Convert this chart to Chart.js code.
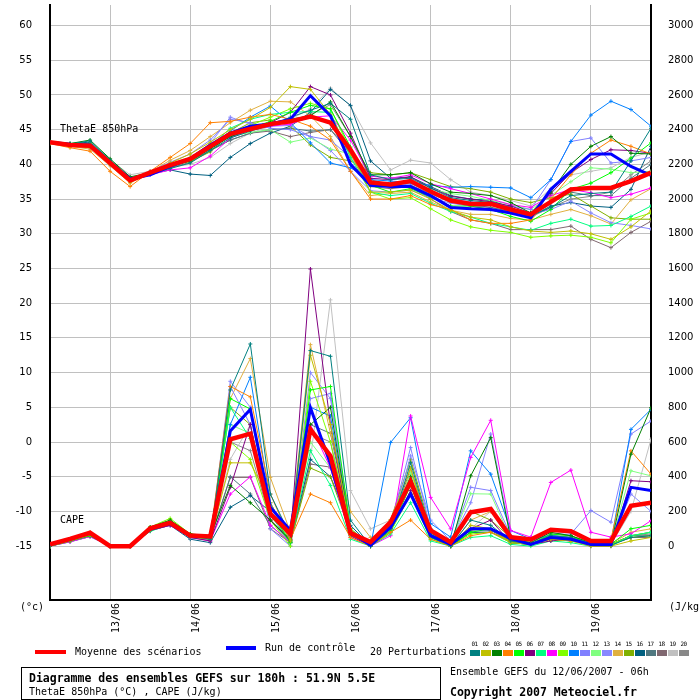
<!DOCTYPE html>
<html>
<head>
<meta charset="utf-8">
<script src="https://cdn.jsdelivr.net/npm/chart.js@4.4.0/dist/chart.umd.min.js"></script>
<style>
body { margin: 0; background: #fff; }
#wrap { position: relative; width: 700px; height: 700px; font-family: "DejaVu Sans Mono", monospace; color: #000; }
#chart { position: absolute; left: 0; top: 0; }
.t { position: absolute; white-space: nowrap; font-size: 10px; line-height: 10px; }
.b { font-weight: bold; font-size: 11.5px; line-height: 12px; }
.sw { position: absolute; }
.num { position: absolute; font-size: 6px; line-height: 6px; width: 11px; text-align: center; letter-spacing: -0.5px; }
#box { position: absolute; left: 21px; top: 667px; width: 418px; height: 31px; border: 1px solid #000; }
</style>
</head>
<body>
<div id="wrap">
  <canvas id="chart" width="700" height="700"></canvas>
  <div class="t" style="left:60px;top:124px">ThetaE 850hPa</div>
  <div class="t" style="left:60px;top:515px">CAPE</div>
  <div class="t" style="left:20px;top:602px">(°c)</div>
  <div class="t" style="left:669px;top:602px">(J/kg</div>

  <div class="sw" style="left:35px;top:650px;width:31px;height:4px;background:#ff0000"></div>
  <div class="t" style="left:75px;top:647px">Moyenne des scénarios</div>
  <div class="sw" style="left:226px;top:646px;width:30px;height:4px;background:#0000ff"></div>
  <div class="t" style="left:265px;top:643px">Run de contrôle</div>
  <div class="t" style="left:370px;top:647px">20 Perturbations</div>
  <div id="swatches"></div>

  <div id="box"></div>
  <div class="t b" style="left:29px;top:672px">Diagramme des ensembles GEFS sur 180h : 51.9N 5.5E</div>
  <div class="t" style="left:29px;top:687px">ThetaE 850hPa (°C) , CAPE (J/kg)</div>
  <div class="t" style="left:450px;top:667px">Ensemble GEFS du 12/06/2007 - 06h</div>
  <div class="t b" style="left:450px;top:686px">Copyright 2007 Meteociel.fr</div>
</div>
<script>
// forecast steps (hours after 12/06 06h)
const hours = [0,6,12,18,24,30,36,42,48,54,60,66,72,78,84,90,96,102,108,114,120,126,132,138,144,150,156,162,168,174,180];
const dayTicks = [18,42,66,90,114,138,162];
const dayLabels = ['13/06','14/06','15/06','16/06','17/06','18/06','19/06'];
const thetaTicks = [-15,-10,-5,0,5,10,15,20,25,30,35,40,45,50,55,60];
const capeTicks = [0,200,400,600,800,1000,1200,1400,1600,1800,2000,2200,2400,2600,2800,3000];

// ThetaE 850hPa (°C)
const thetaMean = [43.2,42.8,42.7,40.2,37.7,38.8,39.9,40.8,42.6,44.4,45.1,45.8,46.2,46.9,46.0,42.1,37.4,37.1,37.6,36.1,34.8,34.3,34.3,33.5,32.8,34.6,36.4,36.6,36.6,37.6,38.8];
const thetaCtl = [43.2,42.9,42.8,40.3,37.9,38.5,39.7,40.8,42.8,44.5,45.5,45.8,46.5,49.9,47.0,40.0,37.0,36.8,36.8,35.5,33.8,33.6,33.5,33.0,32.3,36.4,39.0,41.5,41.5,39.7,38.4];

// CAPE (J/kg)
const capeMean = [10,42,77,0,0,103,134,61,56,616,648,186,71,673,520,75,23,138,373,90,23,195,214,52,38,94,86,29,29,233,250];
const capeCtl = [10,40,75,0,0,100,130,60,55,664,788,224,90,797,473,80,5,109,300,60,10,100,100,44,10,50,40,10,10,339,320];

// 20 perturbations
const pertNames = ['01','02','03','04','05','06','07','08','09','10','11','12','13','14','15','16','17','18','19','20'];
const pertColors = ['#008080','#c0c000','#008000','#ff8000','#00ff00','#800080','#00ff80','#ff00ff','#80ff00','#0080ff','#8080ff','#80ff80','#8888ff','#e0b040','#80b000','#006080','#507880','#806870','#c0c0c0','#888888'];

const thetaPert = [
  [43.1,42.9,43.4,40.6,38.0,38.6,39.4,40.2,42.0,43.8,44.8,45.6,46.8,47.8,48.8,46.5,38.5,37.8,38.0,36.6,35.2,34.8,34.5,33.6,32.6,33.8,35.5,35.8,36.0,40.5,45.2],
  [43.0,42.6,42.4,40.0,37.4,38.8,40.2,41.5,43.2,45.0,46.5,48.2,51.2,50.8,47.2,41.5,36.0,36.0,36.3,35.0,33.4,32.4,32.0,31.0,30.4,30.2,30.4,30.0,29.2,31.0,33.3],
  [43.3,43.0,43.5,40.8,38.2,38.8,39.8,40.5,42.2,44.0,45.0,46.0,46.5,47.0,49.0,44.0,38.5,38.5,38.8,37.2,36.0,35.8,35.5,34.5,33.0,36.0,40.0,42.6,44.0,41.6,41.5],
  [43.0,42.4,41.9,39.0,36.8,39.0,41.0,43.0,46.0,46.2,46.8,47.2,46.5,45.5,43.5,39.0,35.0,35.0,35.5,34.2,33.5,32.0,31.5,31.5,32.0,35.0,38.5,41.6,43.5,42.6,41.5],
  [43.2,42.8,42.6,40.0,37.8,38.6,39.6,40.6,42.4,44.2,45.2,46.2,47.5,48.5,48.0,42.5,37.0,36.0,36.5,35.3,34.0,34.0,33.5,32.5,31.8,33.5,36.4,37.3,38.8,40.9,43.1],
  [43.2,42.9,42.8,40.3,37.8,38.9,40.0,40.8,42.5,44.0,45.0,46.0,47.5,51.2,50.0,44.5,38.0,37.8,38.2,36.6,35.4,35.0,34.6,34.0,33.0,35.8,38.8,40.7,42.1,42.0,41.6],
  [43.2,42.9,42.9,40.4,37.9,38.8,39.7,40.6,42.6,45.2,46.5,47.2,47.5,47.6,47.5,41.0,36.0,35.5,35.8,34.4,33.2,32.4,31.5,31.0,30.5,31.5,32.1,31.1,31.2,32.5,34.0],
  [43.1,42.7,42.4,40.0,37.6,38.5,39.2,39.5,41.2,43.8,45.0,45.5,45.8,46.8,47.0,43.5,38.3,38.0,38.5,37.2,36.5,35.8,35.0,34.2,33.8,35.5,36.4,35.9,35.2,35.7,36.6],
  [43.2,42.8,42.5,40.1,37.6,38.7,39.9,41.0,42.8,44.6,45.6,46.8,48.0,48.8,48.0,42.0,36.0,35.0,35.2,33.6,32.0,31.0,30.5,30.2,29.5,29.7,29.8,29.5,28.7,32.1,33.0],
  [43.1,42.8,42.7,40.3,37.9,38.7,39.6,40.6,42.4,44.8,46.8,48.4,46.0,43.1,40.2,39.5,37.8,37.6,37.4,37.0,36.7,36.8,36.7,36.6,35.2,37.8,43.3,47.1,49.1,47.9,45.5],
  [43.2,42.8,42.6,40.2,37.8,39.0,40.3,41.5,43.5,46.5,46.0,45.2,45.0,44.0,43.5,41.0,37.0,36.8,37.2,36.0,35.0,34.6,34.4,34.0,33.5,37.8,43.3,43.8,40.2,40.5,41.0],
  [43.2,42.8,42.7,40.3,37.8,38.8,39.8,40.7,42.4,44.0,44.6,45.0,43.2,43.8,42.2,41.5,37.5,37.3,37.6,36.4,35.8,35.4,34.8,34.2,33.5,35.5,37.5,39.5,39.3,38.8,39.0],
  [43.2,42.8,42.5,40.1,37.7,38.8,40.0,41.0,43.0,46.8,45.8,45.5,45.6,44.0,42.0,39.0,36.2,36.0,36.3,35.2,34.4,34.0,33.5,33.0,32.8,33.5,34.7,33.0,31.6,31.2,30.7],
  [43.1,42.6,42.2,39.8,37.3,38.9,40.6,42.0,44.0,46.0,47.8,49.1,49.0,47.0,44.0,39.0,35.5,35.8,36.0,34.6,33.4,32.8,32.8,32.2,32.0,32.8,33.5,32.6,31.4,34.9,36.5],
  [43.2,42.9,43.0,40.5,38.0,38.9,39.8,40.4,41.8,44.5,46.0,46.4,45.5,42.8,41.0,40.5,38.8,38.5,38.8,37.8,36.8,36.5,36.0,35.0,34.5,35.2,35.7,34.0,32.3,32.1,32.1],
  [43.2,43.0,43.2,40.6,38.0,38.6,39.2,38.6,38.4,41.0,43.0,44.5,45.5,47.5,50.8,48.5,40.5,38.0,38.2,36.8,35.5,35.0,34.8,33.8,32.5,34.0,34.5,34.0,33.8,36.4,42.6],
  [43.2,42.9,42.9,40.3,37.8,38.8,39.7,40.5,42.0,43.5,44.5,45.0,45.2,44.8,45.0,42.0,37.2,37.0,37.3,36.0,34.8,34.2,33.8,33.2,32.5,34.5,36.0,35.5,35.5,38.0,40.0],
  [43.2,42.8,42.6,40.2,37.7,38.6,39.5,40.3,42.0,43.5,44.5,44.8,44.0,44.6,45.0,41.5,36.8,36.5,36.8,35.0,33.2,32.0,31.5,30.6,30.6,30.6,31.1,29.2,28.0,30.2,31.8],
  [43.2,42.8,42.7,40.6,38.5,39.0,39.6,40.0,41.0,43.0,44.5,45.5,46.5,48.0,51.0,48.4,43.1,39.2,40.6,40.2,37.8,36.0,35.5,34.8,34.0,36.5,38.5,39.0,39.5,41.0,41.8],
  [43.2,42.8,42.7,40.2,37.8,38.7,39.8,40.6,42.3,44.2,45.2,45.8,46.0,47.2,48.6,44.0,37.8,37.0,37.0,35.8,34.5,34.0,33.8,33.2,32.4,33.8,35.0,35.4,36.0,38.5,40.5]
];

const capePert = [
  [0,35,70,0,0,100,140,60,40,900,1165,300,60,1127,1094,150,0,100,480,80,0,150,120,30,10,60,50,10,5,50,60],
  [0,30,65,0,0,95,135,55,40,480,480,250,30,1100,700,100,0,150,450,60,0,120,100,20,10,40,30,0,0,30,50],
  [0,40,70,0,0,110,150,70,60,350,250,150,30,700,800,80,0,120,400,70,0,405,625,40,20,80,60,20,10,530,797],
  [0,35,80,0,0,100,140,70,60,920,860,300,40,300,250,50,0,80,150,40,0,60,80,30,10,40,30,10,40,549,415],
  [0,30,60,0,0,95,130,60,50,850,790,200,20,900,920,100,0,90,350,50,0,80,100,20,10,70,60,10,10,100,120],
  [0,30,60,0,0,90,120,50,30,339,702,150,40,1597,700,60,0,100,320,60,0,100,150,20,10,30,40,0,0,377,371],
  [0,30,60,0,0,85,125,50,40,800,620,180,20,550,350,40,0,70,250,30,0,50,60,10,0,30,20,0,0,60,80],
  [0,25,55,0,0,90,120,50,30,300,400,120,20,700,450,50,0,60,750,281,100,511,725,90,52,367,438,80,52,71,147],
  [0,30,65,0,0,110,160,70,50,600,500,150,0,950,600,100,0,80,300,40,0,70,80,20,10,50,40,10,10,60,80],
  [0,35,70,0,0,100,140,60,40,700,973,250,40,800,750,80,0,597,740,130,52,549,415,90,40,60,50,20,20,673,788],
  [0,30,60,0,0,100,140,50,40,920,700,100,0,850,880,100,0,120,568,100,20,339,320,60,30,60,70,205,138,646,721],
  [0,30,60,0,0,95,135,55,45,700,650,200,30,600,450,60,0,90,420,90,20,302,300,40,20,50,40,10,10,434,405],
  [0,30,60,0,0,90,130,50,40,950,800,150,20,1000,850,90,0,100,520,150,30,250,646,60,30,70,80,30,20,300,200],
  [0,40,75,0,0,105,150,70,55,850,1081,396,80,1161,650,200,50,100,430,60,0,150,200,40,20,70,60,20,15,80,100],
  [0,30,60,0,0,100,145,60,50,800,700,150,20,450,400,80,0,150,500,100,20,200,150,50,20,60,50,10,10,50,60],
  [0,25,55,0,0,90,120,40,20,224,291,200,30,500,400,120,0,80,380,50,0,80,80,30,20,50,40,10,10,60,80],
  [0,30,60,0,0,90,130,60,40,400,300,120,20,700,650,100,0,100,450,80,0,100,90,30,20,50,40,10,10,60,60],
  [0,30,60,0,0,90,125,50,40,396,396,100,20,473,455,80,0,90,300,60,0,80,80,20,10,40,30,10,10,50,50],
  [0,30,60,0,0,100,140,60,40,500,700,200,40,500,1419,320,100,150,350,80,0,100,200,40,20,70,60,10,10,200,616],
  [0,30,60,0,0,100,140,60,40,600,550,150,30,650,600,80,0,90,400,60,0,90,100,30,20,60,50,10,10,60,70]
];

// legend swatches under the chart
const swBox = document.getElementById('swatches');
pertNames.forEach((n, k) => {
  const x = 470 + k * 11;
  swBox.insertAdjacentHTML('beforeend',
    `<div class="num" style="left:${x - 1}px;top:641px">${n}</div>` +
    `<div class="sw" style="left:${x}px;top:650px;width:10px;height:6px;background:${pertColors[k]}"></div>`);
});

function pts(arr) {
  return arr.map((v, i) => ({ x: hours[i], y: v }));
}

function line(data, axis, color, width, marks) {
  return {
    data: pts(data),
    yAxisID: axis,
    borderColor: color,
    backgroundColor: color,
    borderWidth: width,
    pointRadius: marks ? 2 : 0,
    pointStyle: 'cross',
    pointBorderWidth: 1,
    tension: 0,
    fill: false
  };
}

// no extra padding around the plot area
function noPad(s) {
  s.paddingTop = 0;
  s.paddingBottom = 0;
  s.paddingLeft = 0;
  s.paddingRight = 0;
}

// first datasets are drawn on top
const datasets = [
  line(thetaMean, 'y', '#ff0000', 4.5, false),
  line(capeMean, 'y2', '#ff0000', 4.5, false),
  line(thetaCtl, 'y', '#0000ff', 3, false),
  line(capeCtl, 'y2', '#0000ff', 3, false)
];
pertColors.forEach((c, k) => {
  datasets.push(line(thetaPert[k], 'y', c, 1, true));
  datasets.push(line(capePert[k], 'y2', c, 1, true));
});

new Chart(document.getElementById('chart').getContext('2d'), {
  type: 'line',
  data: { datasets: datasets },
  options: {
    responsive: false,
    animation: false,
    events: [],
    layout: { padding: 0 },
    plugins: { legend: { display: false }, tooltip: { enabled: false } },
    scales: {
      x: {
        type: 'linear',
        min: 0,
        max: 180,
        afterBuildTicks: s => { s.ticks = dayTicks.map(v => ({ value: v })); },
        afterFit: s => { s.height = 100; noPad(s); },
        grid: { color: '#c0c0c0', drawTicks: false },
        border: { color: '#000', width: 2 },
        ticks: {
          autoSkip: false,
          minRotation: 90,
          maxRotation: 90,
          padding: 3,
          labelOffset: 6,
          color: '#000',
          font: { family: 'DejaVu Sans Mono', size: 10 },
          callback: v => dayLabels[dayTicks.indexOf(v)]
        }
      },
      y: {
        position: 'left',
        min: -22.76,
        max: 62.96,
        afterBuildTicks: s => { s.ticks = thetaTicks.map(v => ({ value: v })); },
        afterFit: s => { s.width = 50; noPad(s); },
        grid: { color: '#c0c0c0', drawTicks: false },
        border: { color: '#000', width: 2 },
        ticks: { padding: 18, color: '#000', font: { family: 'DejaVu Sans', size: 10 }, callback: v => String(v) }
      },
      y2: {
        position: 'right',
        min: -310.4,
        max: 3118.4,
        afterBuildTicks: s => { s.ticks = capeTicks.map(v => ({ value: v })); },
        afterFit: s => { s.width = 49; noPad(s); },
        grid: { drawOnChartArea: false, drawTicks: false },
        border: { color: '#000', width: 2 },
        ticks: { padding: 17, color: '#000', font: { family: 'DejaVu Sans', size: 10 }, callback: v => String(v) }
      }
    }
  }
});
</script>
</body>
</html>
